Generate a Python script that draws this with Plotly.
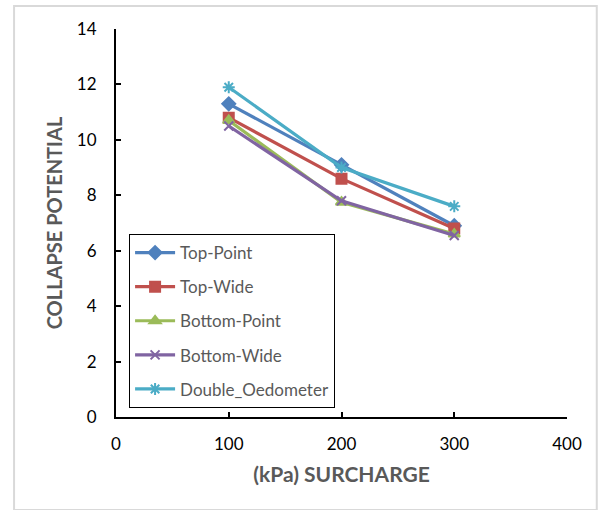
import plotly.graph_objects as go

# Surcharge levels (kPa)
surcharge = [100, 200, 300]

# Collapse potential per test configuration
top_point = [11.3, 9.1, 6.9]
top_wide = [10.8, 8.6, 6.8]
bottom_point = [10.7, 7.75, 6.6]
bottom_wide = [10.5, 7.8, 6.55]
double_oedometer = [11.9, 9.0, 7.6]

series = [
    ("Top-Point", top_point, "#4F81BD", "diamond", 10),
    ("Top-Wide", top_wide, "#C0504D", "square", 10),
    ("Bottom-Point", bottom_point, "#9BBB59", "triangle-up", 10),
    ("Bottom-Wide", bottom_wide, "#8064A2", "x-thin-open", 9),
    ("Double_Oedometer", double_oedometer, "#4BACC6", "asterisk-open", 10),
]

FONT = "Lato, Open Sans, sans-serif"

fig = go.Figure()
for name, vals, color, sym, size in series:
    fig.add_trace(go.Scatter(
        x=surcharge, y=vals, name=name, mode="lines+markers",
        legendgroup=name,
        line=dict(color=color, width=3.2),
        marker=dict(symbol=sym, size=size, color=color,
                    line=dict(color=color, width=2)),
    ))

axis_font = dict(family=FONT, size=17, color="#000000")
title_font = dict(family=FONT, size=21, color="#595959")

fig.update_layout(
    width=599, height=510,
    margin=dict(l=116, r=32, t=29, b=93),
    paper_bgcolor="white", plot_bgcolor="white",
    showlegend=True,
    legend=dict(
        x=0.029, y=0.4716, xanchor="left", yanchor="top",
        bgcolor="white", bordercolor="black", borderwidth=1,
        font=dict(family=FONT, size=17, color="#595959"),
        tracegroupgap=9, itemwidth=40,
    ),
    xaxis=dict(
        range=[0, 400], dtick=100, tick0=0,
        showgrid=False, zeroline=False,
        showline=True, linecolor="black", linewidth=2,
        ticks="inside", ticklen=5, tickwidth=2, tickcolor="black",
        tickfont=axis_font, ticklabelstandoff=11,
        title=dict(text="<b>(kPa) SURCHARGE</b>", font=title_font, standoff=14),
    ),
    yaxis=dict(
        range=[0, 14], dtick=2, tick0=0,
        showgrid=False, zeroline=False,
        showline=True, linecolor="black", linewidth=2,
        ticks="inside", ticklen=5, tickwidth=2, tickcolor="black",
        tickfont=axis_font, ticklabelstandoff=14,
        title=dict(text="<b>COLLAPSE POTENTIAL</b>", font=dict(family=FONT, size=20, color="#595959"), standoff=9),
    ),
)

# Light frame around the chart area
fig.add_shape(type="rect", xref="paper", yref="paper",
              x0=-0.226, x1=1.066, y0=-0.24, y1=1.059,
              line=dict(color="#D9D9D9", width=2), layer="below")

fig.write_html("out.html")
